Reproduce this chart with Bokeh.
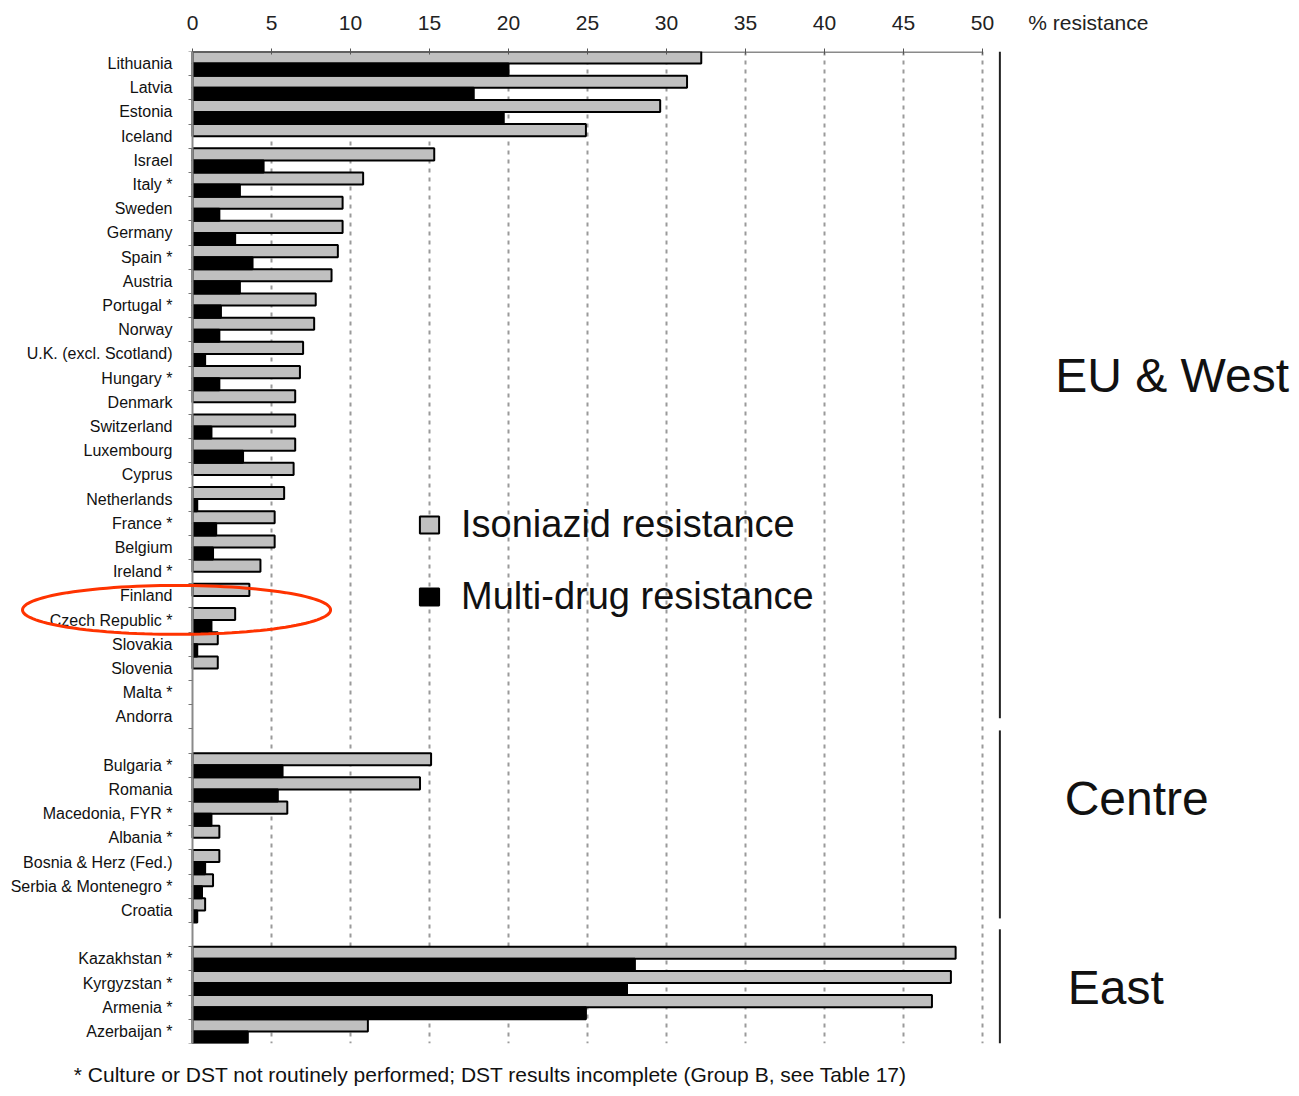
import math
from bokeh.plotting import figure
from bokeh.models import (Range1d, FixedTicker, PolyAnnotation, Legend, LegendItem,
                          ColumnDataSource, LinearAxis)
from bokeh.embed import file_html
from bokeh.resources import INLINE
from bokeh.core.properties import value

# ---------------- data ----------------
eu_countries = ["Lithuania", "Latvia", "Estonia", "Iceland", "Israel", "Italy *", "Sweden",
                "Germany", "Spain *", "Austria", "Portugal *", "Norway", "U.K. (excl. Scotland)",
                "Hungary *", "Denmark", "Switzerland", "Luxembourg", "Cyprus", "Netherlands",
                "France *", "Belgium", "Ireland *", "Finland", "Czech Republic *", "Slovakia",
                "Slovenia", "Malta *", "Andorra"]
eu_inh = [32.2, 31.3, 29.6, 24.9, 15.3, 10.8, 9.5, 9.5, 9.2, 8.8, 7.8, 7.7, 7.0, 6.8, 6.5,
          6.5, 6.5, 6.4, 5.8, 5.2, 5.2, 4.3, 3.6, 2.7, 1.6, 1.6, 0, 0]
eu_mdr = [20.0, 17.8, 19.7, 0, 4.5, 3.0, 1.7, 2.7, 3.8, 3.0, 1.8, 1.7, 0.8, 1.7, 0,
          1.2, 3.2, 0, 0.3, 1.5, 1.3, 0, 0, 1.2, 0.3, 0, 0, 0]

centre_countries = ["Bulgaria *", "Romania", "Macedonia, FYR *", "Albania *",
                    "Bosnia & Herz (Fed.)", "Serbia & Montenegro *", "Croatia"]
centre_inh = [15.1, 14.4, 6.0, 1.7, 1.7, 1.3, 0.8]
centre_mdr = [5.7, 5.4, 1.2, 0, 0.8, 0.6, 0.3]

east_countries = ["Kazakhstan *", "Kyrgyzstan *", "Armenia *", "Azerbaijan *"]
east_inh = [48.3, 48.0, 46.8, 11.1]
east_mdr = [28.0, 27.5, 24.9, 3.5]

region_names = ["EU & West", "Centre", "East"]
x_ticks = [0, 5, 10, 15, 20, 25, 30, 35, 40, 45, 50]
x_unit_label = "% resistance"
series_names = ["Isoniazid resistance", "Multi-drug resistance"]
footnote = "* Culture or DST not routinely performed; DST results incomplete (Group B, see Table 17)"

groups = [(eu_countries, eu_inh, eu_mdr),
          (centre_countries, centre_inh, centre_mdr),
          (east_countries, east_inh, east_mdr)]

# slot positions (one empty slot between groups)
names, pos, inh, mdr = [], [], [], []
slot = 0
for cs, iv, mv in groups:
    for c, a, b in zip(cs, iv, mv):
        names.append(c); pos.append(slot); inh.append(a); mdr.append(b)
        slot += 1
    slot += 1
n_slots = slot - 1

inh_src = ColumnDataSource(dict(y=[p_ - 0.25 for p_, v in zip(pos, inh) if v > 0],
                                v=[v for v in inh if v > 0]))
mdr_src = ColumnDataSource(dict(y=[p_ + 0.25 for p_, v in zip(pos, mdr) if v > 0],
                                v=[v for v in mdr if v > 0]))

FONT = "Liberation Sans"
PX = 15.8          # pixels per % unit
X0 = 192           # pixel position of 0 %
W, H = 1291, 1088

p = figure(width=W, height=H, output_backend="svg", toolbar_location=None,
           x_axis_location="above",
           x_range=Range1d(-X0 / PX, (W - X0) / PX), y_range=Range1d(n_slots - 0.5, -0.5),
           min_border_left=0, min_border_right=0, min_border_top=51, min_border_bottom=45)
p.outline_line_color = None
p.background_fill_color = "white"
p.border_fill_color = "white"

# grid
p.ygrid.visible = False
p.xgrid.ticker = FixedTicker(ticks=x_ticks[1:])
p.xgrid.grid_line_color = "#9a9a9a"
p.xgrid.grid_line_width = 2
p.xgrid.grid_line_dash = "4 5"

# top axis (ticks as minor ticks so the unit label gets no tick mark)
unit_pos = 56.7
xa = p.xaxis[0]
xa.ticker = FixedTicker(ticks=x_ticks + [unit_pos], minor_ticks=x_ticks)
xa.major_label_overrides = {unit_pos: x_unit_label}
xa.axis_line_color = None
xa.major_tick_line_color = None
xa.major_tick_out = 0
xa.major_tick_in = 0
xa.minor_tick_line_color = "#555555"
xa.minor_tick_out = 3
xa.minor_tick_in = 3
xa.major_label_standoff = 15
xa.major_label_text_font = FONT
xa.major_label_text_font_size = "21px"
xa.major_label_text_color = "#222222"
p.segment(x0=x_ticks[0], x1=x_ticks[-1], y0=-0.5, y1=-0.5, line_color="#8a8a8a", line_width=3)

# left axis (country names) at 0 %
ya = p.yaxis[0]
ya.fixed_location = 0
ya.ticker = FixedTicker(ticks=pos, minor_ticks=[k - 0.5 for k in range(n_slots + 2)])
ya.major_label_overrides = {int(k): n for k, n in zip(pos, names)}
ya.major_tick_out = 0
ya.major_tick_in = 0
ya.minor_tick_out = 4
ya.minor_tick_in = 0
ya.minor_tick_line_color = "#777777"
ya.axis_line_color = "#8a8a8a"
ya.axis_line_width = 2
ya.major_label_standoff = 16
ya.major_label_text_font = FONT
ya.major_label_text_font_size = "16px"
ya.major_label_text_color = "#111111"

# bars
r_inh = p.hbar(y="y", left=0, right="v", height=0.5, source=inh_src,
               fill_color="#c0c0c0", line_color="black", line_width=2)
r_mdr = p.hbar(y="y", left=0, right="v", height=0.5, source=mdr_src,
               fill_color="black", line_color="black", line_width=2)

# region separators and labels
sep_top = [-0.5, 27.56, 35.78]
sep_bot = [27.06, 35.33, 40.5]
p.segment(x0=51.1, x1=51.1, y0=sep_top, y1=sep_bot, line_color="#222222", line_width=2)
reg_src = ColumnDataSource(dict(x=[54.6, 55.2, 55.4], y=[12.9, 30.37, 38.18], t=region_names))
p.text(x="x", y="y", text="t", source=reg_src, text_font=value(FONT),
       text_font_size="48px", text_baseline="middle", text_align="left", text_color="#111111")

# legend
legend = Legend(items=[LegendItem(label=series_names[0], renderers=[r_inh]),
                       LegendItem(label=series_names[1], renderers=[r_mdr])],
                location=(417, 425), orientation="vertical",
                glyph_width=24, glyph_height=21, label_standoff=20, spacing=29,
                label_text_font=FONT, label_text_font_size="38px", label_text_color="#111111",
                padding=0, margin=0, border_line_alpha=0, background_fill_alpha=0)
p.add_layout(legend)

# footnote, carried by a bare axis below the frame
foot_pos = 18.86
foot_axis = LinearAxis(ticker=FixedTicker(ticks=[foot_pos], minor_ticks=[]),
                       major_label_overrides={foot_pos: footnote},
                       axis_line_color=None, major_tick_line_color=None,
                       minor_tick_line_color=None, major_tick_out=0, major_tick_in=0,
                       major_label_standoff=19, major_label_text_font=FONT,
                       major_label_text_font_size="21px", major_label_text_color="#111111")
p.add_layout(foot_axis, "below")

# red ellipse around Czech Republic
cx, cy, ax_, ay_ = -1.01, 22.58, 9.75, 1.01
ts = [2 * math.pi * k / 120 for k in range(121)]
p.add_layout(PolyAnnotation(xs=[cx + ax_ * math.cos(t) for t in ts],
                            ys=[cy + ay_ * math.sin(t) for t in ts],
                            fill_alpha=0, line_color="#ff3300", line_alpha=1, line_width=3))

open("out.html", "w").write(file_html(p, INLINE))
